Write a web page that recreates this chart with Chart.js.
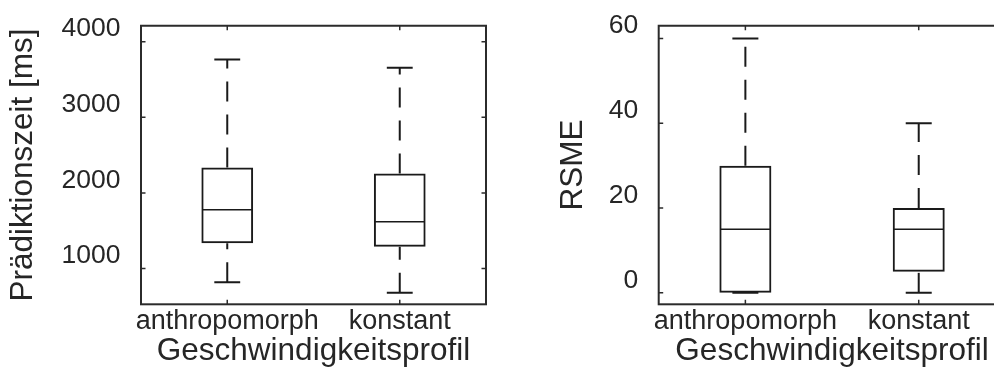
<!DOCTYPE html>
<html>
<head>
<meta charset="utf-8">
<script src="https://cdn.jsdelivr.net/npm/chart.js@4/dist/chart.umd.min.js"></script>
<style>
  html, body { margin: 0; padding: 0; background: #fff; overflow: hidden; }
  #wrap { position: relative; width: 994px; height: 371px; overflow: hidden; background: #fff; }
  #c1 { position: absolute; left: 0; top: 0; }
  #c2 { position: absolute; left: 500px; top: 0; }
</style>
</head>
<body>
<div id="wrap">
  <canvas id="c1" width="497" height="371"></canvas>
  <canvas id="c2" width="520" height="371"></canvas>
</div>
<script>
// ---- data ----
const categories = ['anthropomorph', 'konstant'];

// Left panel: Prädiktionszeit [ms]
const zeitLowerWhisker = [820, 680];
const zeitQ1           = [1335, 1288];
const zeitMedian       = [1777, 1620];
const zeitQ3           = [2336, 2258];
const zeitUpperWhisker = [3764, 3654];
const zeitTicks        = [1000, 2000, 3000, 4000];

// Right panel: RSME
const rsmeLowerWhisker = [0, 0];
const rsmeQ1           = [0, 5];
const rsmeMedian       = [15, 15];
const rsmeQ3           = [30, 20];
const rsmeUpperWhisker = [60, 40];
const rsmeTicks        = [0, 20, 40, 60];

const xTitle = 'Geschwindigkeitsprofil';
const yTitleLeft = 'Prädiktionszeit [ms]';
const yTitleRight = 'RSME';

// ---- styling ----
const FONT = 'Liberation Sans, Arial, sans-serif';
const TEXT = '#262626';
const LINE = '#1a1a1a';

// Plugin drawing whiskers, caps, medians, frame and inward tick marks
const boxExtras = {
  id: 'boxExtras',
  afterDatasetsDraw(chart, args, opts) {
    const ctx = chart.ctx;
    const y = chart.scales.y;
    const x = chart.scales.x;
    const meta = chart.getDatasetMeta(0);
    const ca = chart.chartArea;
    ctx.save();
    meta.data.forEach((bar, i) => {
      const cx = bar.x;
      const w = bar.width;
      const pLow = y.getPixelForValue(opts.lower[i]);
      const pQ1 = y.getPixelForValue(opts.q1[i]);
      const pMed = y.getPixelForValue(opts.median[i]);
      const pQ3 = y.getPixelForValue(opts.q3[i]);
      const pUp = y.getPixelForValue(opts.upper[i]);
      ctx.strokeStyle = LINE;
      ctx.lineCap = 'butt';
      // whiskers (dashed), drawn bottom to top
      ctx.lineWidth = 2;
      ctx.setLineDash([20, 13]);
      if (pLow - pQ1 > 0.5) {
        ctx.beginPath(); ctx.moveTo(cx, pLow); ctx.lineTo(cx, pQ1); ctx.stroke();
      }
      if (pQ3 - pUp > 0.5) {
        ctx.beginPath(); ctx.moveTo(cx, pQ3); ctx.lineTo(cx, pUp); ctx.stroke();
      }
      ctx.setLineDash([]);
      // caps
      ctx.beginPath();
      ctx.moveTo(cx - w / 4, pLow); ctx.lineTo(cx + w / 4, pLow);
      ctx.moveTo(cx - w / 4, pUp); ctx.lineTo(cx + w / 4, pUp);
      ctx.stroke();
      // median
      ctx.lineWidth = 1.6;
      ctx.beginPath();
      ctx.moveTo(cx - w / 2 + 1, pMed); ctx.lineTo(cx + w / 2 - 1, pMed);
      ctx.stroke();
    });
    // frame
    ctx.strokeStyle = '#2b2b2b';
    ctx.lineWidth = 2;
    ctx.strokeRect(ca.left, ca.top, ca.right - ca.left, ca.bottom - ca.top);
    // inward ticks
    const tl = 4.5;
    ctx.lineWidth = 1.5;
    ctx.beginPath();
    y.ticks.forEach((t, i) => {
      const py = y.getPixelForTick(i);
      ctx.moveTo(ca.left, py); ctx.lineTo(ca.left + tl, py);
      ctx.moveTo(ca.right, py); ctx.lineTo(ca.right - tl, py);
    });
    x.ticks.forEach((t, i) => {
      const px = x.getPixelForTick(i);
      ctx.moveTo(px, ca.top); ctx.lineTo(px, ca.top + tl);
      ctx.moveTo(px, ca.bottom); ctx.lineTo(px, ca.bottom - tl);
    });
    ctx.stroke();
    ctx.restore();
  }
};

function makeChart(canvasId, cfg) {
  return new Chart(document.getElementById(canvasId), {
    type: 'bar',
    data: {
      labels: categories,
      datasets: [{
        data: cfg.q1.map((v, i) => [v, cfg.q3[i]]),
        backgroundColor: 'rgba(255,255,255,0)',
        borderColor: LINE,
        borderWidth: 2,
        borderSkipped: false,
        barPercentage: 0.3,
        categoryPercentage: 1
      }]
    },
    options: {
      responsive: false,
      animation: false,
      devicePixelRatio: 1,
      layout: { padding: { left: 0, right: cfg.padRight, top: 23.3, bottom: 0 } },
      plugins: {
        legend: { display: false },
        tooltip: { enabled: false },
        boxExtras: {
          lower: cfg.lower, q1: cfg.q1, median: cfg.median, q3: cfg.q3, upper: cfg.upper
        }
      },
      scales: {
        x: {
          type: 'category',
          offset: true,
          grid: { display: false },
          border: { display: false },
          ticks: {
            color: TEXT,
            padding: -4.5,
            maxRotation: 0,
            minRotation: 0,
            autoSkip: false,
            font: { family: FONT, size: 27, lineHeight: 1 }
          },
          title: {
            display: true,
            text: xTitle,
            color: TEXT,
            padding: { top: 0, bottom: 4 },
            font: { family: FONT, size: 31.5, lineHeight: 1 }
          },
          afterFit(scale) { scale.height = 66.7; }
        },
        y: {
          type: 'linear',
          min: cfg.min,
          max: cfg.max,
          grid: { display: false },
          border: { display: false },
          afterBuildTicks(scale) { scale.ticks = cfg.ticks.map(v => ({ value: v })); },
          ticks: {
            color: TEXT,
            padding: 12.5,
            labelOffset: -12.5,
            font: { family: FONT, size: 26.5, lineHeight: 1 },
            callback: (v) => String(v)
          },
          title: {
            display: true,
            text: cfg.yTitle,
            color: TEXT,
            padding: { top: cfg.titlePad, bottom: 0 },
            font: { family: FONT, size: 31.5, lineHeight: 1 }
          },
          afterFit(scale) { scale.width = cfg.yWidth; }
        }
      }
    },
    plugins: [boxExtras]
  });
}

makeChart('c1', {
  lower: zeitLowerWhisker, q1: zeitQ1, median: zeitMedian, q3: zeitQ3, upper: zeitUpperWhisker,
  ticks: zeitTicks, min: 528, max: 4210, yTitle: yTitleLeft,
  yWidth: 141, padRight: 11, titlePad: 7.5
});

makeChart('c2', {
  lower: rsmeLowerWhisker, q1: rsmeQ1, median: rsmeMedian, q3: rsmeQ3, upper: rsmeUpperWhisker,
  ticks: rsmeTicks, min: -2.7, max: 63, yTitle: yTitleRight,
  yWidth: 158.7, padRight: 14.6, titlePad: 57.5
});
</script>
</body>
</html>
